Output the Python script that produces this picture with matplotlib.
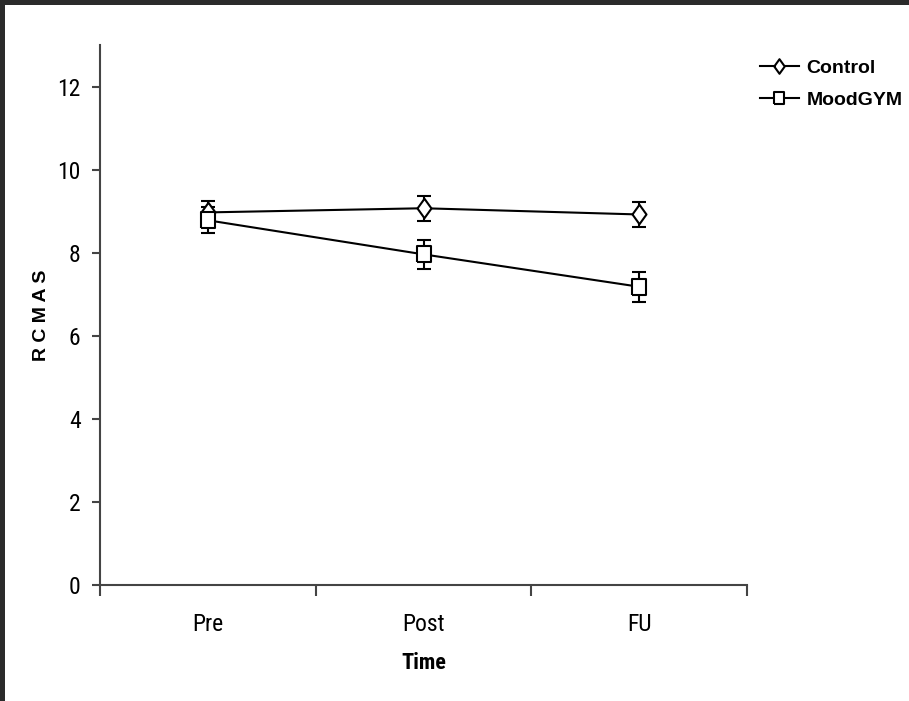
import numpy as np
import matplotlib
matplotlib.use("Agg")
import matplotlib.pyplot as plt
from matplotlib.patches import Rectangle

# data
times = ["Pre", "Post", "FU"]
control = [8.97, 9.07, 8.92]
control_err = [0.27, 0.30, 0.29]
moodgym = [8.78, 7.96, 7.18]
moodgym_err = [0.31, 0.35, 0.36]

fig = plt.figure(figsize=(9.09, 7.01), dpi=100)
fig.patch.set_facecolor("#2b2b2b")
# white page, dark strip left and top like the screenshot
fig.patches.append(Rectangle((5/909, 0), 1, 1 - 5/701, transform=fig.transFigure,
                             facecolor="white", edgecolor="none", zorder=-1))

ax = fig.add_axes([100/909, 1 - 585/701, 647/909, 540/701])
ax.set_facecolor("none")

x = np.arange(len(times))
diamond = [(-0.72, 0), (0, 1), (0.72, 0), (0, -1), (-0.72, 0)]
square = [(-0.85, -1), (0.85, -1), (0.85, 1), (-0.85, 1), (-0.85, -1)]

# error bars first, then the lines with markers (legend only takes the lines)
ax.errorbar(x, control, yerr=control_err, fmt="none", ecolor="black", capsize=5,
            capthick=1.5, elinewidth=1.5, zorder=2)
ax.errorbar(x, moodgym, yerr=moodgym_err, fmt="none", ecolor="black", capsize=5,
            capthick=1.5, elinewidth=1.5, zorder=2)
ax.plot(x, control, color="black", lw=1.5, marker=diamond, ms=14, mfc="white",
        mec="black", mew=1.5, label="Control", zorder=3)
ax.plot(x, moodgym, color="black", lw=1.5, marker=square, ms=12, mfc="white",
        mec="black", mew=1.5, label="MoodGYM", zorder=4)

ax.set_xlim(-0.5, 2.5)
ax.set_ylim(0, 13)
ax.set_yticks(range(0, 13, 2))
ax.set_xticks(x)
ax.set_xticklabels(times)
ax.set_xticks([-0.5, 0.5, 1.5, 2.5], minor=True)
ax.tick_params(axis="x", which="major", length=0, pad=20)
ax.tick_params(axis="x", which="minor", length=8, width=1.5, color="#444444")
ax.tick_params(axis="y", length=6, width=1.5, color="#444444", pad=8)

for lab in ax.get_xticklabels() + ax.get_yticklabels():
    lab.set_family("Roboto Condensed")
    lab.set_fontsize(17)

for s in ["top", "right"]:
    ax.spines[s].set_visible(False)
for s in ["left", "bottom"]:
    ax.spines[s].set_color("#444444")
    ax.spines[s].set_linewidth(1.5)

ax.set_xlabel("Time", fontsize=16, fontweight="bold", family="Roboto Condensed", labelpad=12)
fig.text(42/909, 1 - 315/701, "R C M A S", rotation=90, fontsize=14, fontweight="bold",
         family="Liberation Sans", ha="center", va="center")

ax.legend(loc="upper left", bbox_to_anchor=(760/909, 1 - 59/701), bbox_transform=fig.transFigure,
          frameon=False, prop={"family": "Liberation Sans", "weight": "bold", "size": 14},
          handlelength=2.0, handletextpad=0.4, labelspacing=0.75, borderpad=0, borderaxespad=0,
          markerscale=0.75)

fig.savefig("out.png", dpi=100, facecolor=fig.get_facecolor())
